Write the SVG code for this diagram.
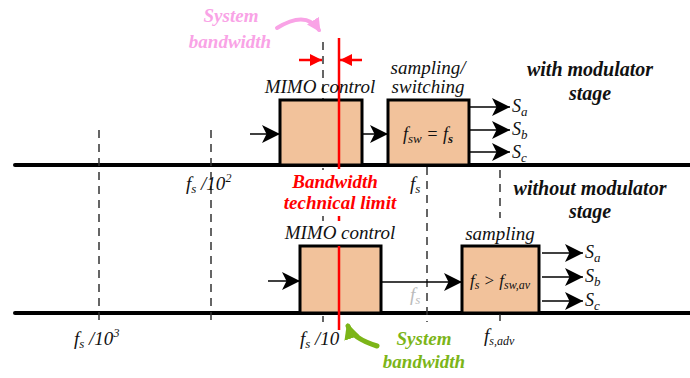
<svg xmlns="http://www.w3.org/2000/svg" width="690" height="378" viewBox="0 0 690 378">
<defs>
<style>
text{font-family:"Liberation Serif","Times New Roman",serif;font-style:italic;fill:#111}
.b{font-weight:bold}
.box{fill:#f2c29b;stroke:#000;stroke-width:3}
.axis{stroke:#000;stroke-width:4;stroke-linecap:round}
.dash{stroke:#333;stroke-width:1.5;stroke-dasharray:8,6;fill:none}
.red{stroke:#ff0000;stroke-width:2.5}
.ln{stroke:#000;stroke-width:1.5;fill:none}
</style>
<marker id="ah" viewBox="0 0 10 10" refX="10" refY="5" markerWidth="18" markerHeight="18" markerUnits="userSpaceOnUse" orient="auto">
<path d="M0,0 L10,5 L0,10 L2.5,5 Z" fill="#000"/>
</marker>
<marker id="rh" viewBox="0 0 10 10" refX="10" refY="5" markerWidth="12" markerHeight="12" markerUnits="userSpaceOnUse" orient="auto">
<path d="M0,0 L10,5 L0,10 Z" fill="#ff0000"/>
</marker>
<marker id="ph" viewBox="0 0 10 10" refX="8" refY="5" markerWidth="14" markerHeight="14" markerUnits="userSpaceOnUse" orient="auto">
<path d="M0,0 L10,5 L0,10 Z" fill="#f9a3e6"/>
</marker>
<marker id="gh" viewBox="0 0 10 10" refX="8" refY="5" markerWidth="16" markerHeight="16" markerUnits="userSpaceOnUse" orient="auto">
<path d="M0,0 L10,5 L0,10 Z" fill="#7cb518"/>
</marker>
</defs>

<g id="axes">
<line class="axis" x1="15" y1="165" x2="690" y2="165"/>
<line class="axis" x1="15" y1="313" x2="690" y2="313"/>
</g>

<g id="gridlines">
<line class="dash" x1="99" y1="130" x2="99" y2="322"/>
<line class="dash" x1="211" y1="130" x2="211" y2="322"/>
<line class="dash" x1="323" y1="42" x2="323" y2="170"/>
<line class="dash" x1="323" y1="216" x2="323" y2="221"/>
<line class="dash" x1="323" y1="246" x2="323" y2="322"/>
<line class="dash" x1="427" y1="153" x2="427" y2="322"/>
<line class="dash" x1="500" y1="170" x2="500" y2="218"/>
<line class="dash" x1="500" y1="313" x2="500" y2="322"/>
</g>

<g id="node-mimo-top">
<rect class="box" x="280" y="100" width="82" height="65"/>
</g>
<g id="node-switching">
<rect class="box" x="388" y="100" width="81" height="65"/>
<text x="428" y="140" font-size="18" text-anchor="middle">f<tspan font-size="13" dy="3">sw</tspan><tspan dy="-3"> = f</tspan><tspan font-size="13" dy="3" font-weight="bold">s</tspan></text>
</g>
<g id="node-mimo-bottom">
<rect class="box" x="300" y="246" width="81" height="67"/>
</g>
<g id="node-sampling">
<rect class="box" x="462" y="246" width="77" height="67"/>
<text x="500" y="286" font-size="17" text-anchor="middle">f<tspan font-size="12" dy="3">s</tspan><tspan dy="-3"> &gt; f</tspan><tspan font-size="12" dy="3">sw,av</tspan></text>
</g>

<g id="redlines">
<line class="red" x1="339" y1="38" x2="339" y2="169"/>
<line class="red" x1="339" y1="216" x2="339" y2="221"/>
<line class="red" x1="339" y1="246" x2="339" y2="330"/>
<line class="red" x1="299" y1="60" x2="322" y2="60" marker-end="url(#rh)"/>
<line class="red" x1="362" y1="60" x2="340" y2="60" marker-end="url(#rh)"/>
</g>

<g id="connectors">
<line class="ln" x1="250" y1="134" x2="280" y2="134" marker-end="url(#ah)"/>
<line class="ln" x1="362" y1="134" x2="388" y2="134" marker-end="url(#ah)"/>
<line class="ln" x1="469" y1="107" x2="510" y2="107" marker-end="url(#ah)"/>
<line class="ln" x1="469" y1="130" x2="510" y2="130" marker-end="url(#ah)"/>
<line class="ln" x1="469" y1="152" x2="510" y2="152" marker-end="url(#ah)"/>
<line class="ln" x1="268" y1="281" x2="300" y2="281" marker-end="url(#ah)"/>
<line class="ln" x1="381" y1="282" x2="462" y2="282" marker-end="url(#ah)"/>
<line class="ln" x1="542" y1="253" x2="583" y2="253" marker-end="url(#ah)"/>
<line class="ln" x1="542" y1="277" x2="583" y2="277" marker-end="url(#ah)"/>
<line class="ln" x1="542" y1="301" x2="583" y2="301" marker-end="url(#ah)"/>
<path d="M277,28 Q306,10 319,30" stroke="#f9a3e6" stroke-width="4" fill="none" stroke-linecap="round" marker-end="url(#ph)"/>
<path d="M377,346 Q352,338 348,326" stroke="#7cb518" stroke-width="5" fill="none" stroke-linecap="round" marker-end="url(#gh)"/>
</g>

<g id="labels">
<text class="b" x="231" y="22" font-size="19" text-anchor="middle" style="fill:#f9a3e6">System</text>
<text class="b" x="230" y="48" font-size="19" text-anchor="middle" style="fill:#f9a3e6">bandwidth</text>
<text x="320" y="93" font-size="19" text-anchor="middle">MIMO control</text>
<text x="428" y="74" font-size="19" text-anchor="middle">sampling/</text>
<text x="428" y="93" font-size="19" text-anchor="middle">switching</text>
<text class="b" x="590" y="76" font-size="20" text-anchor="middle">with modulator</text>
<text class="b" x="590" y="100" font-size="20" text-anchor="middle">stage</text>
<text x="512" y="112" font-size="18">S<tspan font-size="13" dy="4">a</tspan></text>
<text x="512" y="135" font-size="18">S<tspan font-size="13" dy="4">b</tspan></text>
<text x="512" y="158" font-size="18">S<tspan font-size="13" dy="4">c</tspan></text>
<text x="186" y="190" font-size="19">f<tspan font-size="13" dy="3">s</tspan><tspan dy="-3"> /10</tspan><tspan font-size="12" dy="-8">2</tspan></text>
<text class="b" x="335" y="188" font-size="19" text-anchor="middle" style="fill:#ff0000">Bandwidth</text>
<text class="b" x="340" y="209" font-size="19" text-anchor="middle" style="fill:#ff0000">technical limit</text>
<text x="410" y="190" font-size="19">f<tspan font-size="13" dy="3">s</tspan></text>
<text class="b" x="590" y="195" font-size="20" text-anchor="middle">without modulator</text>
<text class="b" x="590" y="218" font-size="20" text-anchor="middle">stage</text>
<text x="340" y="239" font-size="19" text-anchor="middle">MIMO control</text>
<text x="500" y="240" font-size="19" text-anchor="middle">sampling</text>
<text x="585" y="258" font-size="18">S<tspan font-size="13" dy="4">a</tspan></text>
<text x="585" y="282" font-size="18">S<tspan font-size="13" dy="4">b</tspan></text>
<text x="585" y="306" font-size="18">S<tspan font-size="13" dy="4">c</tspan></text>
<text x="410" y="301" font-size="19" style="fill:#bbbbbb">f<tspan font-size="13" dy="3">s</tspan></text>
<text x="74" y="345" font-size="19">f<tspan font-size="13" dy="3">s</tspan><tspan dy="-3"> /10</tspan><tspan font-size="12" dy="-8">3</tspan></text>
<text x="300" y="345" font-size="19">f<tspan font-size="13" dy="3">s</tspan><tspan dy="-3"> /10</tspan></text>
<text x="484" y="342" font-size="19">f<tspan font-size="12" dy="3">s,adv</tspan></text>
<text class="b" x="424" y="345" font-size="19" text-anchor="middle" style="fill:#7cb518">System</text>
<text class="b" x="424" y="368" font-size="19" text-anchor="middle" style="fill:#7cb518">bandwidth</text>
</g>
</svg>
